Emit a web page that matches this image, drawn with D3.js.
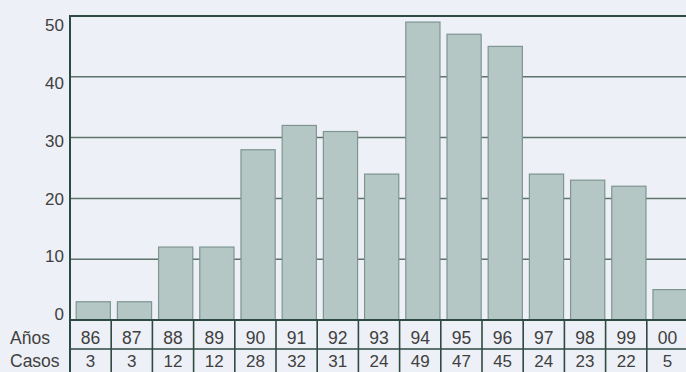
<!DOCTYPE html>
<html>
<head>
<meta charset="utf-8">
<script src="https://cdn.jsdelivr.net/npm/d3@7"></script>
<style>
  html, body { margin: 0; padding: 0; background: #eceff5; }
  svg { display: block; font-family: "Liberation Sans", Arial, sans-serif; }
</style>
</head>
<body>
<svg id="chart" width="686" height="372"></svg>
<script>
// Casos por año
const years = ["86", "87", "88", "89", "90", "91", "92", "93", "94", "95", "96", "97", "98", "99", "00"];
const cases = [3, 3, 12, 12, 28, 32, 31, 24, 49, 47, 45, 24, 23, 22, 5];
const yTicks = [0, 10, 20, 30, 40, 50];
const rowLabels = ["Años", "Casos"];

const W = 686, H = 372;
const plotLeft = 70, plotTop = 16, plotBase = 320, plotRight = 688;
const rowLine = 349;
const rowBaselines = [344, 367];

const svg = d3.select("#chart");
svg.append("rect").attr("width", W).attr("height", H).attr("fill", "#edf0f6");

const col = d3.scaleBand().domain(years).range([plotLeft, plotRight]).padding(0);
const y = d3.scaleLinear().domain([0, 50]).range([plotBase, plotTop]);
// tick labels spread slightly differently from the gridlines
const yLab = d3.scaleLinear().domain([0, 50]).range([plotBase - 6, plotTop + 9]);

const gridColor = "#5f736b";
const frameColor = "#2f4a40";
const textColor = "#404040";

// horizontal gridlines
svg.append("g").selectAll("line").data(yTicks.filter(t => t > 0 && t < 50)).join("line")
  .attr("x1", plotLeft).attr("x2", W)
  .attr("y1", d => y(d)).attr("y2", d => y(d))
  .attr("stroke", gridColor).attr("stroke-width", 1.5);

// bars
const bw = col.bandwidth();
svg.append("g").selectAll("rect").data(cases).join("rect")
  .attr("x", (d, i) => col(years[i]) + bw * 0.15)
  .attr("width", bw * 0.83)
  .attr("y", d => y(d))
  .attr("height", d => y(0) - y(d))
  .attr("fill", "#b4c7c4")
  .attr("stroke", "#7e9591")
  .attr("stroke-width", 1.2);

// frame: top line, left axis, baseline
svg.append("line").attr("x1", plotLeft).attr("x2", W).attr("y1", y(50)).attr("y2", y(50))
  .attr("stroke", frameColor).attr("stroke-width", 2.2);
svg.append("line").attr("x1", plotLeft).attr("x2", plotLeft).attr("y1", y(50) - 1).attr("y2", H)
  .attr("stroke", frameColor).attr("stroke-width", 2);
svg.append("line").attr("x1", plotLeft).attr("x2", W).attr("y1", plotBase).attr("y2", plotBase)
  .attr("stroke", frameColor).attr("stroke-width", 2.2);

// y tick labels
svg.append("g").selectAll("text").data(yTicks).join("text")
  .attr("x", 64).attr("y", d => yLab(d)).attr("dy", "0.36em")
  .attr("text-anchor", "end").attr("font-size", 17).attr("fill", textColor)
  .text(d => d);

// data table below the chart
svg.append("line").attr("x1", plotLeft).attr("x2", W).attr("y1", rowLine).attr("y2", rowLine)
  .attr("stroke", frameColor).attr("stroke-width", 1.6);
svg.append("g").selectAll("line").data(years.slice(1)).join("line")
  .attr("x1", d => col(d)).attr("x2", d => col(d))
  .attr("y1", plotBase).attr("y2", H)
  .attr("stroke", frameColor).attr("stroke-width", 1.6);

svg.append("g").selectAll("text").data(rowLabels).join("text")
  .attr("x", 10).attr("y", (d, i) => rowBaselines[i])
  .attr("font-size", 17.5).attr("fill", textColor)
  .text(d => d);

svg.append("g").selectAll("text").data(years).join("text")
  .attr("x", d => col(d) + bw / 2).attr("y", rowBaselines[0])
  .attr("text-anchor", "middle").attr("font-size", 17.5).attr("fill", textColor)
  .text(d => d);

svg.append("g").selectAll("text").data(cases).join("text")
  .attr("x", (d, i) => col(years[i]) + bw / 2).attr("y", rowBaselines[1])
  .attr("text-anchor", "middle").attr("font-size", 17).attr("fill", textColor)
  .text(d => d);
</script>
</body>
</html>
